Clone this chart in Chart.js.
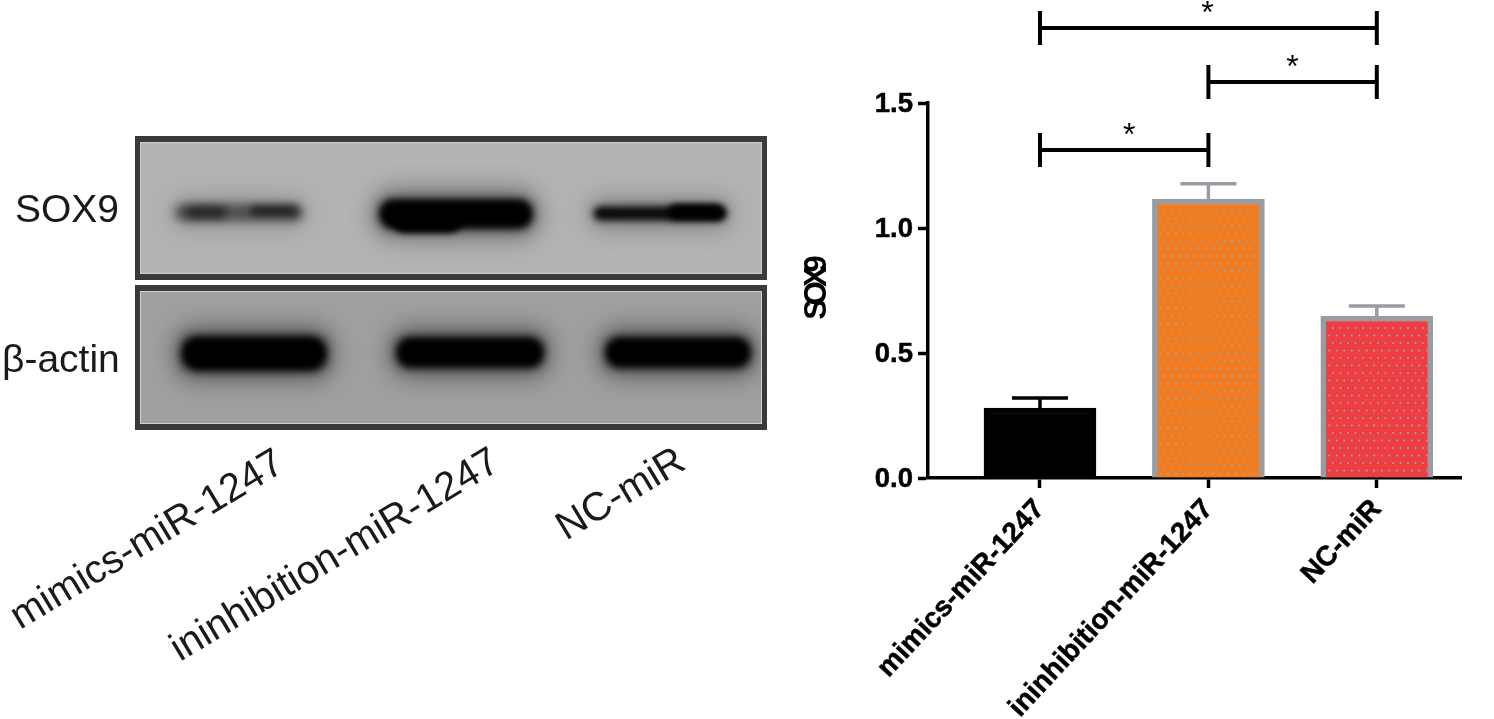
<!DOCTYPE html>
<html>
<head>
<meta charset="utf-8">
<title>SOX9</title>
<script src="https://cdn.jsdelivr.net/npm/chart.js@4"></script>
<style>
  html, body { margin: 0; padding: 0; background: #fff; }
  canvas { display: block; }
</style>
</head>
<body>
<canvas id="chart" width="1494" height="719"></canvas>
<script>
const categories = ['mimics-miR-1247', 'ininhibition-miR-1247', 'NC-miR'];
const barValues = [0.28, 1.116, 0.648];
const errorValues = [0.04, 0.061, 0.04];
const yTicks = [0, 0.5, 1.0, 1.5];
const bracketFrom = [0, 1, 0];
const bracketTo = [1, 2, 2];
const bracketLevels = [1.312, 1.584, 1.8];
const starShift = [5, 0, -1];
const blotLanes = ['mimics-miR-1247', 'ininhibition-miR-1247', 'NC-miR'];
const blotRows = ['SOX9', 'β-actin'];
const yTitle = 'SOX9';

const FONT = '"Liberation Sans", Arial, sans-serif';
const GREY = '#9a9ca3';

// dotted fill used by the two outlined bars
function dotFill(color, ox, oy) {
  const tile = document.createElement('canvas');
  tile.width = 15;
  tile.height = 15;
  const t = tile.getContext('2d');
  t.fillStyle = color;
  t.fillRect(0, 0, 15, 15);
  t.fillStyle = '#86aec2';
  [[1, 1], [8.5, 1], [4.75, 8.5], [12.25, 8.5]].forEach(d => {
    t.beginPath();
    t.arc(d[0], d[1], 0.95, 0, Math.PI * 2);
    t.fill();
  });
  const pattern = t.createPattern(tile, 'repeat');
  pattern.setTransform(new DOMMatrix().translate(ox, oy));
  return pattern;
}

function blurred(ctx, blur, color, x, y, w, h, r) {
  ctx.save();
  ctx.filter = `blur(${blur}px)`;
  ctx.fillStyle = color;
  ctx.beginPath();
  ctx.roundRect(x, y, w, h, r);
  ctx.fill();
  ctx.restore();
}

function drawPanel(ctx, y, h, bg) {
  ctx.save();
  ctx.fillStyle = '#3a3a3a';
  ctx.fillRect(135, y, 632, h);
  ctx.fillStyle = '#d0d0d0';
  ctx.fillRect(140, y + 6, 622, h - 12);
  ctx.fillStyle = bg;
  ctx.fillRect(141, y + 7, 620, h - 14);
  ctx.restore();
}

// b = x, y, w, h, colour, core blur, wide halo alpha
function drawBand(ctx, clipY, clipH, b) {
  ctx.save();
  ctx.beginPath();
  ctx.rect(141, clipY, 620, clipH);
  ctx.clip();
  if (b[6] > 0) {
    blurred(ctx, 13, `rgba(30,30,30,${b[6]})`, b[0] - 6, b[1] - 9, b[2] + 12, b[3] + 18, 18);
    blurred(ctx, 5, `rgba(20,20,20,${b[6]})`, b[0] - 3, b[1] - 3, b[2] + 6, b[3] + 6, 14);
  }
  blurred(ctx, b[5], b[4], b[0], b[1], b[2], b[3], b[3] / 2);
  ctx.restore();
}

function tiltedLabel(ctx, text, x, y) {
  ctx.save();
  ctx.translate(x, y);
  ctx.rotate(-31 * Math.PI / 180);
  ctx.textAlign = 'left';
  ctx.textBaseline = 'alphabetic';
  ctx.fillText(text, 0, 0);
  ctx.restore();
}

const blotPlugin = {
  id: 'blot',
  beforeDraw(chart) {
    const ctx = chart.ctx;
    ctx.save();
    ctx.fillStyle = '#fff';
    ctx.fillRect(0, 0, chart.width, chart.height);

    drawPanel(ctx, 136, 144, '#b4b4b4');
    drawPanel(ctx, 285, 145, '#a0a0a0');

    // top row bands
    drawBand(ctx, 143, 130, [176, 205, 126, 15, 'rgba(30,30,30,0.5)', 4, 0.2]);
    drawBand(ctx, 143, 130, [186, 207, 40, 11, 'rgba(15,15,15,0.7)', 4, 0]);
    drawBand(ctx, 143, 130, [250, 206, 48, 10, 'rgba(15,15,15,0.7)', 3.5, 0]);
    drawBand(ctx, 143, 130, [380, 200, 152, 28, '#000', 3, 0.5]);
    drawBand(ctx, 143, 130, [392, 208, 70, 25, '#000', 3, 0]);
    drawBand(ctx, 143, 130, [594, 207, 132, 13, '#0a0a0a', 3, 0.3]);
    drawBand(ctx, 143, 130, [668, 204, 56, 16, '#000', 3, 0]);
    // lower row bands
    drawBand(ctx, 292, 131, [182, 337, 144, 33, '#000', 3, 0.55]);
    drawBand(ctx, 292, 131, [397, 338, 146, 29, '#000', 3, 0.55]);
    drawBand(ctx, 292, 131, [606, 338, 144, 29, '#000', 3, 0.55]);

    ctx.fillStyle = '#1a1a1a';
    ctx.font = `39px ${FONT}`;
    ctx.textAlign = 'left';
    ctx.textBaseline = 'alphabetic';
    ctx.fillText(blotRows[0], 15, 222);
    ctx.fillText(blotRows[1], 2, 372);

    ctx.font = `40px ${FONT}`;
    tiltedLabel(ctx, blotLanes[0], 20, 630);
    tiltedLabel(ctx, blotLanes[1], 180, 662);
    tiltedLabel(ctx, blotLanes[2], 566, 541);
    ctx.restore();
  }
};

// error bars, significance brackets and the overlapped y title
const overlayPlugin = {
  id: 'overlay',
  afterDatasetsDraw(chart) {
    const ctx = chart.ctx;
    const xs = chart.scales.x;
    const ys = chart.scales.y;
    ctx.save();
    ctx.lineCap = 'butt';

    barValues.forEach((v, i) => {
      const x = xs.getPixelForValue(i);
      const top = ys.getPixelForValue(v + errorValues[i]);
      const base = ys.getPixelForValue(v);
      ctx.strokeStyle = i === 0 ? '#000' : GREY;
      ctx.lineWidth = 3.5;
      ctx.beginPath();
      ctx.moveTo(x, base);
      ctx.lineTo(x, top);
      ctx.moveTo(x - 28, top);
      ctx.lineTo(x + 28, top);
      ctx.stroke();
    });

    ctx.strokeStyle = '#000';
    ctx.fillStyle = '#000';
    ctx.lineWidth = 4;
    bracketLevels.forEach((level, i) => {
      const x1 = xs.getPixelForValue(bracketFrom[i]);
      const x2 = xs.getPixelForValue(bracketTo[i]);
      const y = ys.getPixelForValue(level);
      ctx.beginPath();
      ctx.moveTo(x1, y);
      ctx.lineTo(x2, y);
      ctx.moveTo(x1, y - 17);
      ctx.lineTo(x1, y + 17);
      ctx.moveTo(x2, y - 17);
      ctx.lineTo(x2, y + 17);
      ctx.stroke();
      ctx.font = `32px ${FONT}`;
      ctx.textAlign = 'center';
      ctx.textBaseline = 'alphabetic';
      ctx.fillText('*', (x1 + x2) / 2 + starShift[i], y - 5);
    });

    ctx.translate(817, (ys.top + ys.bottom) / 2);
    ctx.rotate(-Math.PI / 2);
    ctx.font = `bold 31px ${FONT}`;
    ctx.letterSpacing = '-6px';
    ctx.textAlign = 'center';
    ctx.textBaseline = 'middle';
    ctx.fillText(yTitle, 0, 0);
    ctx.restore();
  }
};

new Chart(document.getElementById('chart'), {
  type: 'bar',
  data: {
    datasets: [{
      data: barValues.map((v, i) => ({ x: i, y: v })),
      backgroundColor: ['#000', dotFill('#f47c20', 1, 0), dotFill('#ef3e42', 12, 12)],
      borderColor: ['#000', GREY, GREY],
      borderWidth: 5.5,
      barThickness: 112
    }]
  },
  options: {
    responsive: false,
    animation: false,
    devicePixelRatio: 1,
    layout: { padding: { top: 103, right: 33, left: 0, bottom: 0 } },
    plugins: { legend: { display: false }, tooltip: { enabled: false } },
    scales: {
      x: {
        type: 'linear',
        offset: false,
        min: -0.665,
        max: 2.5,
        afterBuildTicks(scale) {
          scale.ticks = categories.map((c, i) => ({ value: i }));
        },
        afterFit(scale) {
          scale.height = 241;
        },
        grid: { offset: false, drawOnChartArea: false, drawTicks: true, tickLength: 10, tickWidth: 3.5, tickColor: '#000' },
        border: { display: true, color: '#000', width: 3.5 },
        ticks: {
          autoSkip: false,
          minRotation: 47,
          maxRotation: 47,
          padding: 5,
          color: '#000',
          textStrokeColor: '#000',
          textStrokeWidth: 0.5,
          font: { family: FONT, size: 28, weight: 'bold' },
          callback: value => categories[value]
        }
      },
      y: {
        min: 0,
        max: 1.5,
        afterBuildTicks(scale) {
          scale.ticks = yTicks.map(v => ({ value: v }));
        },
        afterFit(scale) {
          scale.width = 928;
        },
        grid: { drawOnChartArea: false, drawTicks: true, tickLength: 10, tickWidth: 3.5, tickColor: '#000' },
        border: { display: true, color: '#000', width: 3.5 },
        ticks: {
          padding: 5,
          labelOffset: 1.5,
          color: '#000',
          textStrokeColor: '#000',
          textStrokeWidth: 0.5,
          font: { family: FONT, size: 27.5, weight: 'bold' },
          callback: value => value.toFixed(1)
        }
      }
    }
  },
  plugins: [blotPlugin, overlayPlugin]
});
</script>
</body>
</html>
